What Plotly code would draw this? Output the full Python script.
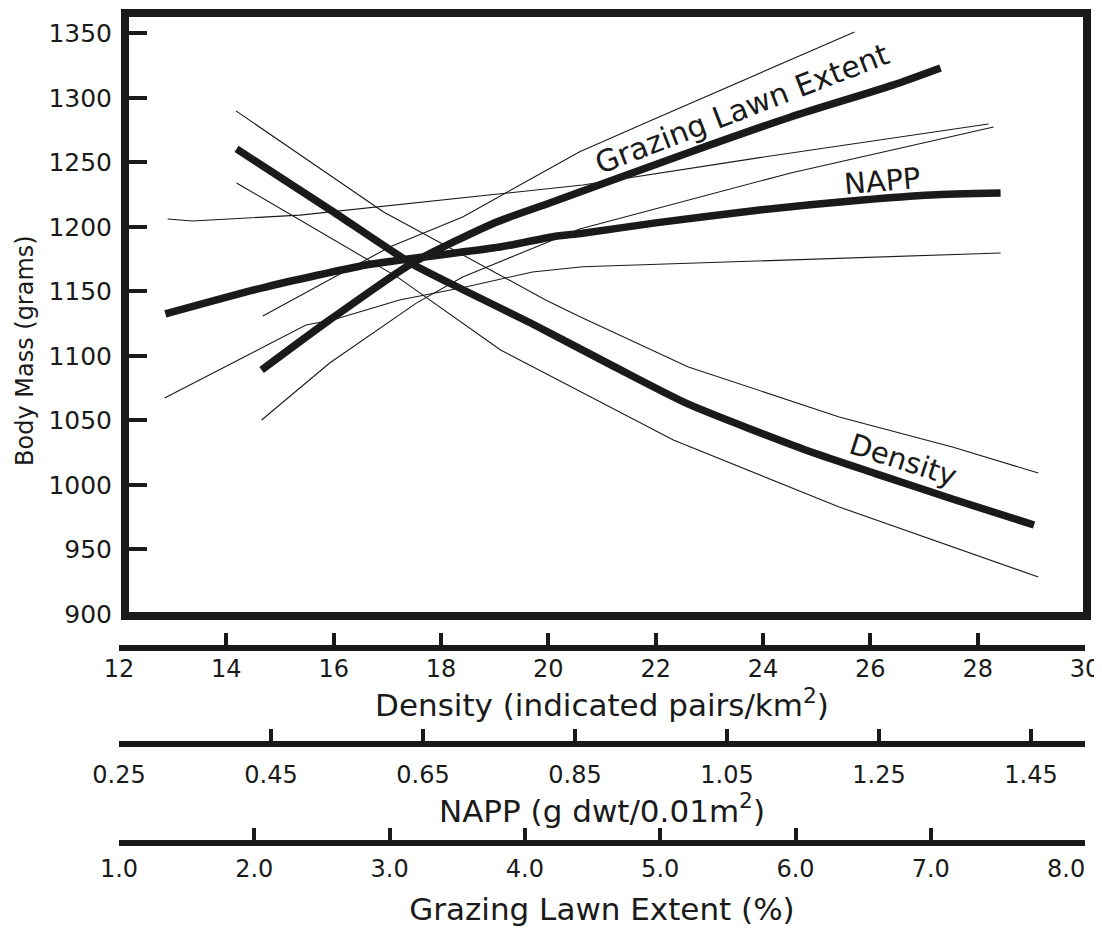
import plotly.graph_objects as go

# ---------------- data ----------------
density_ticks = [12, 14, 16, 18, 20, 22, 24, 26, 28, 30]
napp_ticks = [0.25, 0.45, 0.65, 0.85, 1.05, 1.25, 1.45]
grazing_ticks = [1.0, 2.0, 3.0, 4.0, 5.0, 6.0, 7.0, 8.0]
mass_ticks = [900, 950, 1000, 1050, 1100, 1150, 1200, 1250, 1300, 1350]

density_x = [14.19, 15.94, 17.43, 18.42, 19.67, 21.21, 22.61, 24.86, 26.11, 27.53, 29.05]
density_y = [1260.3, 1213.0, 1172.0, 1151.0, 1125.4, 1092.0, 1062.5, 1026.0, 1008.5, 989.0, 968.8]
density_hi_x = [14.18, 16.93, 19.95, 20.60, 22.61, 25.42, 27.53, 29.13]
density_hi_y = [1289.8, 1211.5, 1143.3, 1130.0, 1091.3, 1052.6, 1029.3, 1009.1]
density_lo_x = [14.19, 17.19, 19.11, 20.60, 22.33, 25.42, 27.53, 29.13]
density_lo_y = [1234.0, 1161.0, 1104.5, 1072.0, 1034.7, 982.8, 951.8, 928.5]

napp_x = [0.311, 0.443, 0.575, 0.640, 0.751, 0.821, 0.860, 0.956, 1.093, 1.228, 1.319, 1.410]
napp_y = [1132.4, 1153.3, 1170.4, 1175.8, 1184.3, 1192.3, 1195.0, 1203.0, 1213.0, 1220.8, 1224.7, 1226.2]
napp_hi_x = [0.314, 0.347, 0.488, 0.706, 0.820, 0.860, 1.093, 1.394]
napp_hi_y = [1206.0, 1204.5, 1209.0, 1223.0, 1230.0, 1232.4, 1253.6, 1279.7]
napp_lo_x = [0.310, 0.400, 0.496, 0.531, 0.619, 0.706, 0.794, 0.860, 1.410]
napp_lo_y = [1067.3, 1094.4, 1123.9, 1127.8, 1143.3, 1153.3, 1165.0, 1169.0, 1179.7]

grazing_x = [2.054, 2.557, 3.170, 3.791, 4.183, 5.202, 5.964, 6.725, 7.072]
grazing_y = [1089.0, 1127.8, 1172.0, 1203.7, 1218.4, 1257.2, 1285.1, 1310.0, 1323.1]
grazing_hi_x = [2.063, 3.000, 3.540, 4.405, 4.940, 5.450, 6.436]
grazing_hi_y = [1130.9, 1184.3, 1207.6, 1258.2, 1282.8, 1306.0, 1351.0]
grazing_lo_x = [2.054, 2.557, 3.200, 3.540, 4.405, 5.964, 7.464]
grazing_lo_y = [1050.2, 1094.4, 1141.0, 1161.0, 1198.3, 1241.7, 1277.4]

# ---------------- styling ----------------
INK = "#1a1a1a"
FONT = "DejaVu Sans"
THICK = 7.5
THIN = 1.1

OFF = 8  # the page body keeps its default 8px margin
W, H = 1102 - OFF, 928 - OFF
ML, MR, MT, MB = 111, 17, 5, 28
PW = W - ML - MR
PH = H - MT - MB


def px_x(p):
    """page pixel x -> paper x"""
    return (p - OFF - ML) / PW


def px_y(p):
    """page pixel y -> paper y"""
    return (H - MB - (p - OFF)) / PH


Y_DOMAIN_BOTTOM = px_y(616)
POS_DENSITY = px_y(648)
POS_NAPP = px_y(743.5)
POS_GRAZING = px_y(843)

fig = go.Figure()


def add_line(x, y, axis, width, shape):
    fig.add_trace(go.Scatter(
        x=x, y=y, xaxis=axis, yaxis="y", mode="lines",
        line=dict(color=INK, width=width, shape=shape, smoothing=0.6),
        showlegend=False, hoverinfo="skip"))


# confidence lines (thin)
add_line(density_hi_x, density_hi_y, "x", THIN, "linear")
add_line(density_lo_x, density_lo_y, "x", THIN, "linear")
add_line(napp_hi_x, napp_hi_y, "x2", THIN, "linear")
add_line(napp_lo_x, napp_lo_y, "x2", THIN, "linear")
add_line(grazing_hi_x, grazing_hi_y, "x3", THIN, "linear")
add_line(grazing_lo_x, grazing_lo_y, "x3", THIN, "linear")
# fitted lines (thick)
add_line(density_x, density_y, "x", THICK, "spline")
add_line(napp_x, napp_y, "x2", THICK, "spline")
add_line(grazing_x, grazing_y, "x3", THICK, "spline")

# empty traces so that the tick-only axes are drawn
for ax, rng in (("x4", density_ticks), ("x5", napp_ticks), ("x6", grazing_ticks)):
    fig.add_trace(go.Scatter(x=[rng[0], rng[-1]], y=[None, None], xaxis=ax, yaxis="y",
                             mode="lines", showlegend=False, hoverinfo="skip"))

DENS_RANGE = [12, 30]
NAPP_RANGE = [0.25, 0.25 + PW / 760.0]
GRAZ_RANGE = [1.0, 1.0 + PW / 135.3]

tickfont = dict(family=FONT, size=24, color=INK)
titlefont = dict(family=FONT, size=31, color=INK)


def label_axis(rng, pos, vals, fmt, title, standoff, tstandoff, overlay=None):
    d = dict(range=rng, domain=[0, 1], anchor="free", position=pos,
             tickmode="array", tickvals=vals, tickformat=fmt, ticks="",
             showline=False, showgrid=False, zeroline=False,
             tickfont=tickfont, ticklabelstandoff=standoff,
             title=dict(text=title, font=titlefont, standoff=tstandoff))
    if overlay:
        d["overlaying"] = overlay
    return d


def tick_axis(rng, pos, vals):
    return dict(range=rng, anchor="free", position=pos, overlaying="x",
                tickmode="array", tickvals=vals, ticks="inside", ticklen=12,
                tickwidth=3.5, tickcolor=INK, showticklabels=False,
                showline=True, linewidth=6, linecolor=INK,
                showgrid=False, zeroline=False)


fig.update_layout(
    width=W, height=H,
    margin=dict(l=ML, r=MR, t=MT, b=MB, autoexpand=False),
    paper_bgcolor="white", plot_bgcolor="white",
    font=dict(family=FONT, color=INK),
    xaxis=label_axis(DENS_RANGE, POS_DENSITY, density_ticks, "d",
                     "Density (indicated pairs/km<sup>2</sup>)", 4, 0),
    xaxis2=label_axis(NAPP_RANGE, POS_NAPP, napp_ticks, ".2f",
                      "NAPP (g dwt/0.01m<sup>2</sup>)", 14, 0, overlay="x"),
    xaxis3=label_axis(GRAZ_RANGE, POS_GRAZING, grazing_ticks, ".1f",
                      "Grazing Lawn Extent (%)", 9, 16, overlay="x"),
    xaxis4=tick_axis(DENS_RANGE, POS_DENSITY, density_ticks[1:-1]),
    xaxis5=tick_axis(NAPP_RANGE, POS_NAPP, napp_ticks[1:]),
    xaxis6=tick_axis(GRAZ_RANGE, POS_GRAZING, grazing_ticks[1:-1]),
    yaxis=dict(range=[898.3, 1365.7], domain=[Y_DOMAIN_BOTTOM, 1],
               anchor="free", position=px_x(125),
               tickmode="array", tickvals=mass_ticks,
               ticks="inside", ticklen=18, tickwidth=3.5, tickcolor=INK,
               showline=True, linewidth=8, linecolor=INK,
               showgrid=False, zeroline=False,
               tickfont=dict(family=FONT, size=25, color=INK),
               ticklabelstandoff=4),
)

# plot frame
fig.add_shape(type="rect", xref="paper", yref="paper",
              x0=px_x(125), x1=px_x(1087), y0=Y_DOMAIN_BOTTOM, y1=1,
              line=dict(color=INK, width=8), fillcolor="rgba(0,0,0,0)", layer="above")

ann_font = dict(family=FONT, size=29, color=INK)


def label(text, x, y, angle, font):
    fig.add_annotation(text=text, x=px_x(x), y=px_y(y), xref="paper", yref="paper",
                       xanchor="center", yanchor="middle", textangle=angle,
                       showarrow=False, font=font)


label("Grazing Lawn Extent", 742, 108, -21, dict(family=FONT, size=30, color=INK))
label("NAPP", 882, 181, -5, ann_font)
label("Density", 903, 460, 18, ann_font)
label("Body Mass (grams)", 25, 351, -90, dict(family=FONT, size=24, color=INK))

fig.write_html("out.html")
